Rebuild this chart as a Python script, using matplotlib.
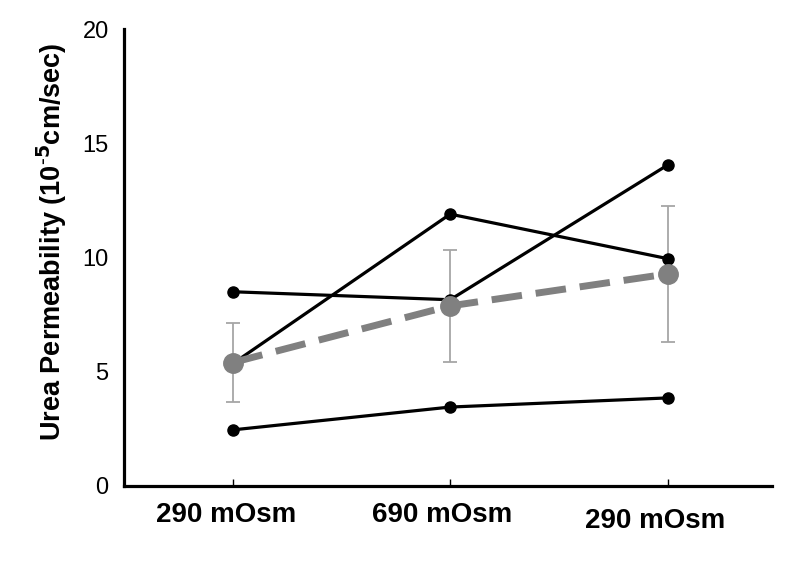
import matplotlib.pyplot as plt
import matplotlib.transforms as mtransforms
import numpy as np

plt.rcParams['font.family'] = ['Liberation Sans', 'DejaVu Sans']

# data
conditions = ["290 mOsm", "690 mOsm", "290 mOsm"]
animal_a = [8.5, 8.15, 14.05]
animal_b = [5.35, 11.9, 9.95]
animal_c = [2.45, 3.45, 3.85]
mean_vals = [5.4, 7.88, 9.28]
mean_err = [1.75, 2.44, 2.96]

x = np.arange(1, len(conditions) + 1)

fig = plt.figure(figsize=(8, 5.61), dpi=100)
ax = fig.add_axes([0.155, 0.134, 0.81, 0.814])

for series in (animal_a, animal_b, animal_c):
    ax.plot(x, series, color='black', lw=2.3, marker='o', ms=8, zorder=2)

ax.errorbar(x, mean_vals, yerr=mean_err, fmt='none', ecolor='#a6a6a6',
            elinewidth=1.3, capsize=5, capthick=1.3, zorder=1)
ax.plot(x, mean_vals, color='#808080', lw=5, ls=(0, (4.4, 2.0)),
        marker='o', ms=14, zorder=3)

ax.set_xlim(0.5, 3.48)
ax.set_ylim(0, 20)
ax.set_yticks([0, 5, 10, 15, 20])
ax.set_xticks(x)
ax.set_xticklabels(conditions, fontsize=20, fontweight='bold')
ax.tick_params(axis='y', length=0, pad=11, labelsize=17)
ax.tick_params(axis='x', direction='in', length=5, width=1, pad=12)

# the labels in the original sit a little off their ticks
shifts = [(-7, 0), (-8, 0), (-12, -6)]
for lab, (dx, dy) in zip(ax.get_xticklabels(), shifts):
    lab.set_transform(lab.get_transform() +
                      mtransforms.ScaledTranslation(dx / 100, dy / 100, fig.dpi_scale_trans))

ax.set_ylabel('Urea Permeability (10$^{\\mathbf{\\text{-}5}}$cm/sec)', fontsize=19.5,
              fontweight='bold')
ax.yaxis.set_label_coords(-0.085, 0.535)

for s in ('top', 'right'):
    ax.spines[s].set_visible(False)
for s in ('left', 'bottom'):
    ax.spines[s].set_linewidth(2.3)

plt.savefig("out.png", dpi=100)
